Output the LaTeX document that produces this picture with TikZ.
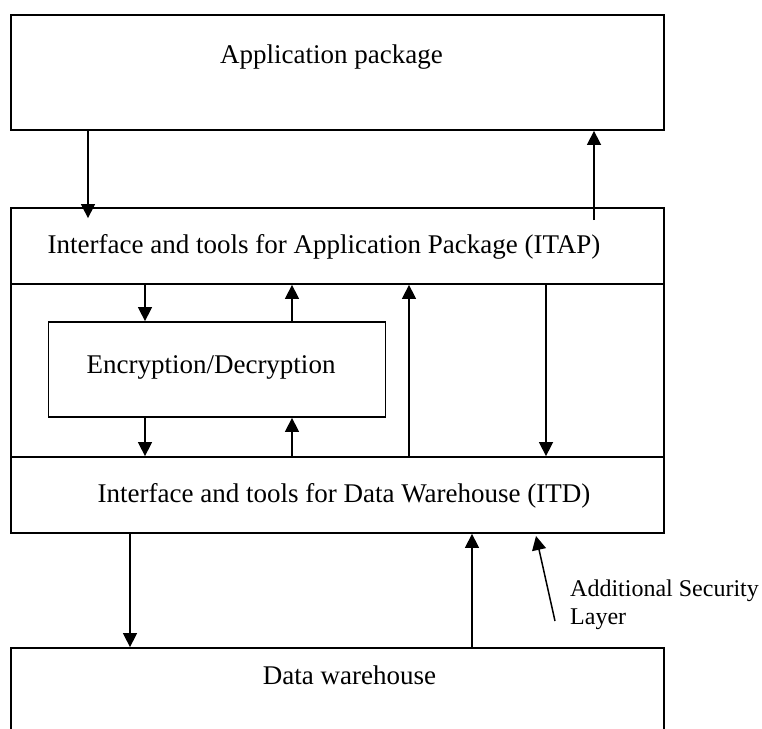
\documentclass[tikz,border=0pt]{standalone}
\usepackage{fontspec}
\setmainfont{Liberation Serif}
\usetikzlibrary{arrows.meta}
\tikzset{
  box/.style={draw, line width=1.8pt, inner sep=0pt, rectangle},
  txt/.style={inner sep=0pt, anchor=base, font=\fontsize{27}{30}\selectfont},
  conn/.style={line width=1.5pt, -{Triangle[length=14pt,width=14pt]}},
}
\begin{document}
\begin{tikzpicture}[x=1pt,y=-1pt]
\useasboundingbox (0,0) rectangle (762,728);
\clip (0,0) rectangle (762,728);
% boxes
\node[box, minimum width=653pt, minimum height=115pt] (app) at (337.5,72.5) {};
\node[txt] (apptxt) at (331.5,63) {Application package};
\node[box, minimum width=653pt, minimum height=76pt] (itap) at (337.5,246) {};
\node[txt] (itaptxt) at (324,253) {Interface and tools for Application Package (ITAP)};
\node[box, minimum width=653pt, minimum height=173pt] (mid) at (337.5,370.5) {};
\node[box, minimum width=653pt, minimum height=76pt] (itd) at (337.5,495) {};
\node[txt] (itdtxt) at (344,502) {Interface and tools for Data Warehouse (ITD)};
\node[box, minimum width=337pt, minimum height=95pt] (enc) at (217,369.5) {};
\node[txt] (enctxt) at (211,373) {Encryption/Decryption};
\node[box, minimum width=653pt, minimum height=104pt] (dw) at (337.5,700) {};
\node[txt] (dwtxt) at (349.5,684) {Data warehouse};
\node[inner sep=0pt, anchor=north west, align=left, font=\fontsize{24}{28}\selectfont] (sec) at (570,580) {Additional Security\\Layer};
% x positions
\coordinate (xa) at (88,0);
\coordinate (xb) at (594,0);
\coordinate (xc) at (145,0);
\coordinate (xd) at (292,0);
\coordinate (xe) at (409,0);
\coordinate (xf) at (546,0);
\coordinate (xg) at (130,0);
\coordinate (xh) at (472,0);
\coordinate (secend) at (555,621);
\coordinate (sectip) at (536,536);
% connectors
\draw[conn] (app.south -| xa) -- ([yshift=-11pt]itap.north -| xa);
\draw[conn] ([yshift=-13pt]itap.north -| xb) -- (app.south -| xb);
\draw[conn] (itap.south -| xc) -- (enc.north -| xc);
\draw[conn] (enc.north -| xd) -- (itap.south -| xd);
\draw[conn] (enc.south -| xc) -- (itd.north -| xc);
\draw[conn] (itd.north -| xd) -- (enc.south -| xd);
\draw[conn] (itd.north -| xe) -- (itap.south -| xe);
\draw[conn] (itap.south -| xf) -- (itd.north -| xf);
\draw[conn] (itd.south -| xg) -- (dw.north -| xg);
\draw[conn] (dw.north -| xh) -- (itd.south -| xh);
\draw[conn] (secend) -- (sectip);
\end{tikzpicture}
\end{document}
